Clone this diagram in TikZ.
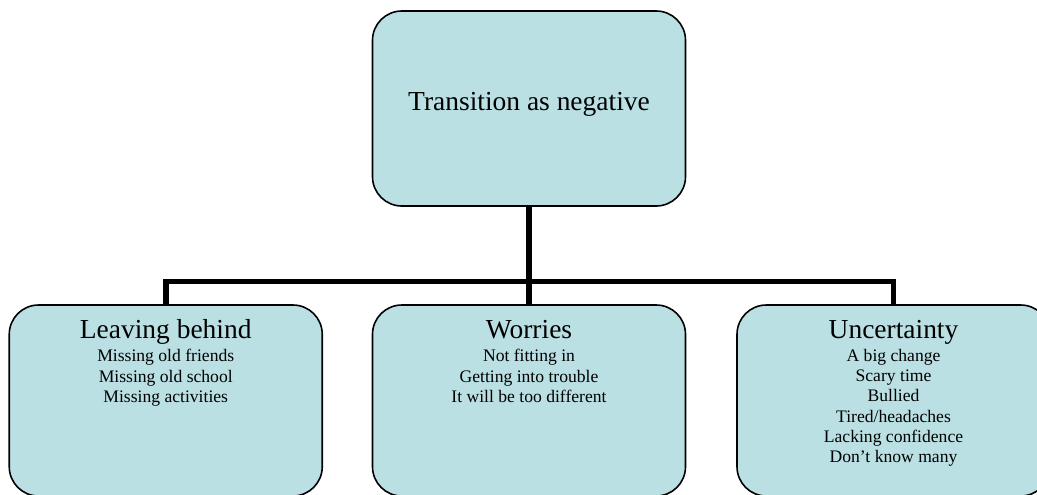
\documentclass[tikz,border=0pt]{standalone}
\usepackage{fontspec}
\setmainfont[Ligatures=NoCommon]{Liberation Serif}
\definecolor{boxfill}{RGB}{186,224,228}
\tikzset{
  box/.style={draw=black, line width=1.2pt, fill=boxfill, rounded corners=22pt, inner sep=0pt, minimum width=234.75pt},
  topbox/.style={box, minimum height=146.25pt},
  lowbox/.style={box, minimum height=143.25pt},
  conn/.style={draw=black, line width=4.4pt, line join=miter},
  headtxt/.style={anchor=base, inner sep=0pt, font=\fontsize{20.6}{24}\selectfont},
  itemtxt/.style={anchor=base, inner sep=0pt, align=center, font=\fontsize{13.2}{15.2}\selectfont}
}
\begin{document}
\begin{tikzpicture}[x=0.75pt,y=-0.75pt]
\useasboundingbox (0,0) rectangle (1037,494);
\clip (0,0) rectangle (1037,494);
\node[topbox] (top) at (529,108.5) {};
\node[lowbox] (lb) at (165.75,400.5) {};
\node[lowbox] (mb) at (529,400.5) {};
\node[lowbox] (rb) at (893.5,400.5) {};
\coordinate (hub) at (529,281.5);
\draw[conn] (top.south) -- (mb.north);
\draw[conn] (lb.north) |- (hub) -| (rb.north);
\node[headtxt] (toptxt) at (529,110) {Transition as negative};
\node[headtxt] (lbh) at ([yshift=-25.9pt]lb.north) {Leaving behind};
\node[itemtxt] (lbi) at ([yshift=-73.6pt]lb.north) {Missing old friends\\Missing old school\\Missing activities};
\node[headtxt] (mbh) at ([yshift=-25.9pt]mb.north) {Worries};
\node[itemtxt] (mbi) at ([yshift=-73.6pt]mb.north) {Not fitting in\\Getting into trouble\\It will be too different};
\node[headtxt] (rbh) at ([yshift=-25.9pt]rb.north) {Uncertainty};
\node[itemtxt] (rbi) at ([yshift=-118.9pt]rb.north) {A big change\\Scary time\\Bullied\\Tired/headaches\\Lacking confidence\\Don’t know many};
\end{tikzpicture}
\end{document}
